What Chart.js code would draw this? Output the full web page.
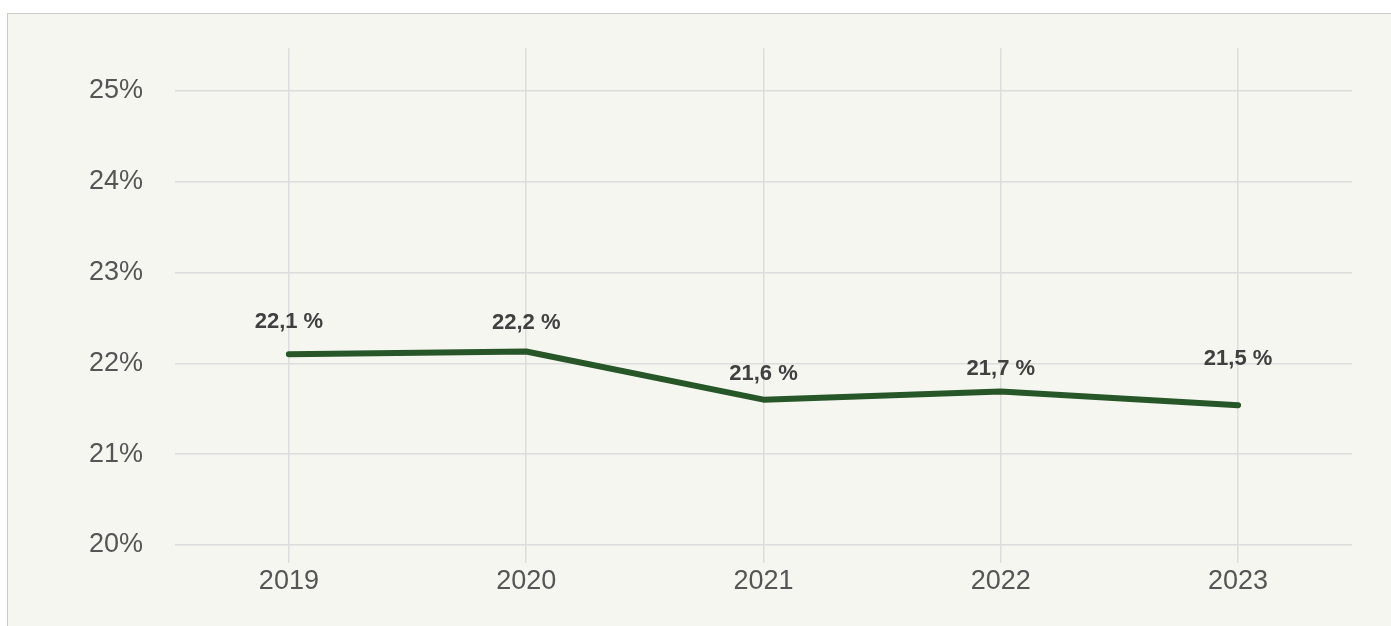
<!DOCTYPE html>
<html>
<head>
<meta charset="utf-8">
<script src="https://cdn.jsdelivr.net/npm/chart.js@4.4.1/dist/chart.umd.min.js"></script>
<style>
  html, body { margin: 0; padding: 0; background: #ffffff; overflow: hidden; }
  #frame {
    position: absolute; left: 7px; top: 13px; width: 1420px; height: 700px;
    background: #f4f6ef; border: 1px solid #cccccc;
  }
  #wrap { position: absolute; left: 0; top: 0; width: 1391px; height: 626px; }
</style>
</head>
<body>
<div id="frame"></div>
<div id="wrap"><canvas id="chart"></canvas></div>
<script>
const years = ["2019", "2020", "2021", "2022", "2023"];
const shares = [22.10, 22.13, 21.60, 21.69, 21.54];
const shareLabels = ["22,1 %", "22,2 %", "21,6 %", "21,7 %", "21,5 %"];
const yTicks = [20, 21, 22, 23, 24, 25];

// how far above each point its label sits (px), as placed in the original
const labelLift = [32, 29, 26, 23, 46];

const FONT = "'Liberation Sans', Arial, sans-serif";

const valueLabels = {
  id: "valueLabels",
  afterDatasetsDraw(chart) {
    const ctx = chart.ctx;
    const meta = chart.getDatasetMeta(0);
    ctx.save();
    ctx.font = `bold 22px ${FONT}`;
    ctx.fillStyle = "#404040";
    ctx.textAlign = "center";
    ctx.textBaseline = "middle";
    meta.data.forEach((pt, i) => {
      ctx.fillText(shareLabels[i], pt.x, pt.y - labelLift[i]);
    });
    ctx.restore();
  },
};

new Chart(document.getElementById("chart"), {
  type: "line",
  data: {
    datasets: [{
      data: shares.map((v, i) => ({ x: i, y: v })),
      borderColor: "#275628",
      borderWidth: 6,
      borderCapStyle: "round",
      borderJoinStyle: "round",
      pointRadius: 0,
      tension: 0,
    }],
  },
  options: {
    responsive: true,
    maintainAspectRatio: false,
    animation: false,
    layout: { padding: { top: 46, right: 39, left: 0, bottom: 0 } },
    plugins: {
      legend: { display: false },
      tooltip: { enabled: false },
    },
    scales: {
      x: {
        type: "linear",
        min: -0.48,
        max: years.length - 1 + 0.48,
        border: { display: false },
        grid: { color: "#dddddd", lineWidth: 1.5, tickLength: 18 },
        afterBuildTicks: (scale) => {
          scale.ticks = years.map((_, i) => ({ value: i }));
        },
        ticks: {
          color: "#555555",
          font: { family: FONT, size: 27 },
          padding: 2,
          callback: (v) => years[v],
        },
        afterFit: (scale) => { scale.height = 81; },
      },
      y: {
        min: 20,
        max: 25.47,
        border: { display: false },
        grid: { color: "#dddddd", lineWidth: 1.5, drawTicks: false },
        afterBuildTicks: (scale) => {
          scale.ticks = yTicks.map((v) => ({ value: v }));
        },
        ticks: {
          color: "#555555",
          font: { family: FONT, size: 27 },
          padding: 32,
          callback: (v) => `${v}%`,
        },
        afterFit: (scale) => { scale.width = 175; },
      },
    },
  },
  plugins: [valueLabels],
});
</script>
</body>
</html>
